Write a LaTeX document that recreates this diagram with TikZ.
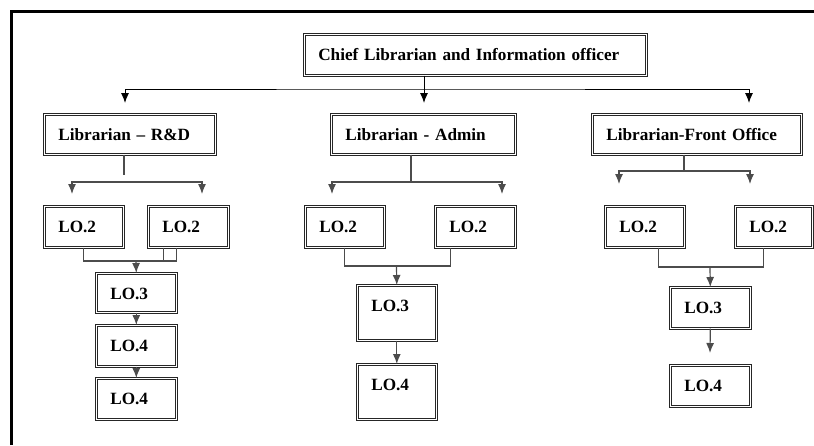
\documentclass[tikz,border=0pt]{standalone}
\usepackage{fontspec}
\setmainfont{Liberation Serif}
\usetikzlibrary{arrows.meta}

\tikzset{
  unitbox/.style={draw=black!85, double, double distance=1.3pt, line width=0.6pt,
    anchor=north west, inner xsep=14pt, inner ysep=0pt, text width=#1, align=left,
    text height=26.5pt, text depth=14.5pt, font=\bfseries\fontsize{17.2}{19}\selectfont},
  tallbox/.style={text depth=28.5pt},
  link/.style={draw=black!70, line width=1.2pt},
  >={Latex[length=10pt,width=8pt]}
}

\begin{document}
\begin{tikzpicture}[x=1pt,y=-1pt]
\useasboundingbox (0,0) rectangle (814,445);
\draw[line width=3pt] (11,445) -- (11,11) -- (814,11);

% top level
\node[unitbox=314pt] (chief) at (304,34) {Chief Librarian and Information officer};
\node[unitbox=143pt, text depth=13.5pt] (rd) at (44,114) {Librarian -- R\&D};
\node[unitbox=156pt, text depth=13.5pt] (admin) at (331,114) {Librarian - Admin};
\node[unitbox=181pt, text depth=13.5pt] (front) at (592,114) {Librarian-Front Office};

% R&D branch
\node[unitbox=51pt] (rdA) at (44,206) {LO.2};
\node[unitbox=52pt] (rdB) at (148,206) {LO.2};
\node[unitbox=52pt, text depth=12.5pt] (rdC) at (96,273) {LO.3};
\node[unitbox=52pt] (rdD) at (96,325) {LO.4};
\node[unitbox=52pt] (rdE) at (96,378) {LO.4};

% Admin branch
\node[unitbox=51pt] (adA) at (305,206) {LO.2};
\node[unitbox=52pt] (adB) at (435,206) {LO.2};
\node[unitbox=51pt, tallbox] (adC) at (357,285) {LO.3};
\node[unitbox=51pt, tallbox] (adD) at (357,364) {LO.4};

% Front office branch
\node[unitbox=51pt] (frA) at (605,206) {LO.2};
\node[unitbox=49pt] (frB) at (735,206) {LO.2};
\node[unitbox=52pt] (frC) at (670,287) {LO.3};
\node[unitbox=52pt] (frD) at (670,365) {LO.4};

% junction points
\coordinate (cbus) at (424,89);
\coordinate (tipRD) at (125,103);
\coordinate (tipAdmin) at (424,103);
\coordinate (tipFront) at (749,103);
\coordinate (rdStem) at (124,175);
\coordinate (rdBus) at (124,182);
\coordinate (rdL) at (72,194);
\coordinate (rdR) at (202,194);
\coordinate (rdJoin) at (136,261);
\coordinate (adStem) at (411,182);
\coordinate (adL) at (332,194);
\coordinate (adR) at (502,194);
\coordinate (adJoin) at (396.5,266);
\coordinate (frStem) at (684,171);
\coordinate (frL) at (619,184);
\coordinate (frR) at (750,184);
\coordinate (frJoin) at (710,267);
\coordinate (frTip) at (710,353);

% chief to librarians
\draw[black, line width=1pt, ->] (chief.south -| cbus) -- (tipAdmin);
\draw[black, line width=1pt, <->] (tipRD) |- (cbus) -| (tipFront);

% R&D links
\draw[link] (rd.south -| rdStem) -- (rdStem);
\draw[link, <->] (rdL) |- (rdBus) -| (rdR);
\draw[link] (rdA.south) |- (rdC.north east |- rdJoin) -- (rdB.south -| rdC.north east);
\draw[link] ([xshift=-25pt]rdB.south) -- ([xshift=-25pt]rdB.south |- rdJoin);
\draw[link, ->] (rdJoin) -- (rdC.north);
\draw[link, ->] (rdC) -- (rdD);
\draw[link, ->] (rdD) -- (rdE);

% Admin links
\draw[link] (admin.south -| adStem) -- (adStem);
\draw[link, <->] (adL) |- (adStem) -| (adR);
\draw[link] (adA.south) |- (adJoin) -| ([xshift=-25pt]adB.south);
\draw[link, ->] (adJoin) -- (adC.north);
\draw[link, ->] (adC) -- (adD);

% Front office links
\draw[link] (front.south -| frStem) -- (frStem);
\draw[link, <->] (frL) |- (frStem) -| (frR);
\draw[link] ([xshift=13.5pt]frA.south) |- (frJoin) -| ([xshift=-10.5pt]frB.south);
\draw[link, ->] (frJoin) -- (frC.north);
\draw[link, ->] (frC.south) -- (frTip);

\end{tikzpicture}
\end{document}
